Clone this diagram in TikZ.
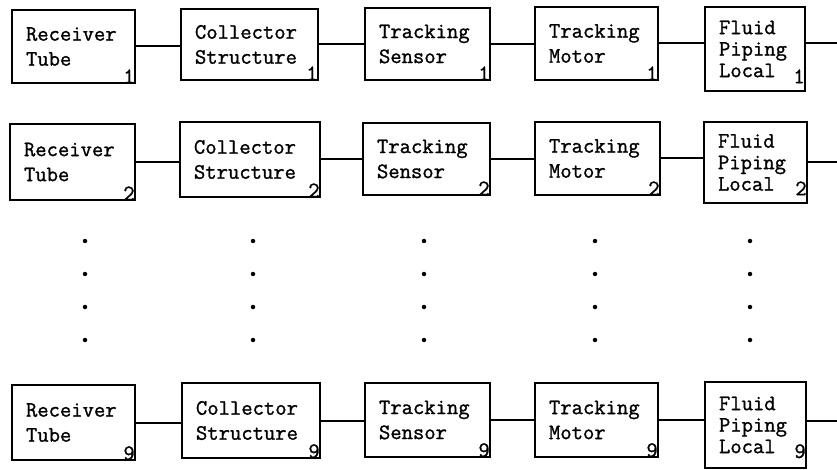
\documentclass[tikz,border=0pt]{standalone}
\usepackage{fontspec}
\newfontfamily\typew[FakeBold=1.2]{Latin Modern Mono}
\begin{document}
\begin{tikzpicture}[x=1pt,y=-1pt,
  blk/.style={draw, line width=1.8pt, align=left, inner xsep=14pt, inner ysep=0pt,
    font=\typew\fontsize{22}{25}\selectfont},
  tallblk/.style={blk, font=\typew\fontsize{22}{21.5}\selectfont},
  num/.style={anchor=south east, inner xsep=1pt, inner ysep=0.5pt,
    font=\typew\fontsize{22}{22}\selectfont},
  link/.style={line width=2pt},
  dotmark/.style={circle, fill, inner sep=0pt, minimum size=4.5pt}]
\useasboundingbox (0,0) rectangle (837,470);
% one block: name, x1, y1, x2, y2, style, text, index, index lift
\newcommand\blk[9]{%
  \pgfmathsetmacro\bw{#4-#2}%
  \pgfmathsetmacro\bh{#5-#3}%
  \pgfmathsetmacro\tw{#4-#2-28}%
  \node[#6, minimum width=\bw pt, minimum height=\bh pt, text width=\tw pt]
    (#1) at ({(#2+#4)/2},{(#3+#5)/2}) {#7};
  \node[num, yshift=#9pt] (#1n) at (#1.south east) {#8};
}
% ---- row 1 ----
\blk{rt1}{12}{10}{135}{83}{blk}{Receiver\\Tube}{1}{0}
\blk{cs1}{181}{9}{318}{80}{blk}{Collector\\Structure}{1}{0}
\blk{ts1}{365}{8}{490}{80}{blk}{Tracking\\Sensor}{1}{0}
\blk{tm1}{535}{7}{658}{80}{blk}{Tracking\\Motor}{1}{0}
\blk{fp1}{705}{7}{805}{91}{tallblk}{Fluid\\Piping\\Local}{1}{8}
% ---- row 2 ----
\blk{rt2}{10}{124}{135}{200}{blk}{Receiver\\Tube}{2}{0}
\blk{cs2}{180}{122}{320}{197}{blk}{Collector\\Structure}{2}{0}
\blk{ts2}{363}{123}{490}{195}{blk}{Tracking\\Sensor}{2}{0}
\blk{tm2}{535}{122}{660}{195}{blk}{Tracking\\Motor}{2}{0}
\blk{fp2}{704}{122}{807}{203}{tallblk}{Fluid\\Piping\\Local}{2}{8}
% ---- row 9 ----
\blk{rt9}{12}{385}{135}{460}{blk}{Receiver\\Tube}{9}{0}
\blk{cs9}{182}{383}{320}{458}{blk}{Collector\\Structure}{9}{0}
\blk{ts9}{365}{383}{490}{457}{blk}{Tracking\\Sensor}{9}{0}
\blk{tm9}{535}{383}{658}{457}{blk}{Tracking\\Motor}{9}{0}
\blk{fp9}{705}{382}{806}{468}{tallblk}{Fluid\\Piping\\Local}{9}{10}
% free ends of the outgoing lines
\coordinate (e1) at (837,43);
\coordinate (e2) at (837,162);
\coordinate (e9) at (837,421);
% connectors
\foreach \r in {1,2,9}{
  \draw[link] (rt\r.east) -- (rt\r.east -| cs\r.west);
  \draw[link] (cs\r.east) -- (cs\r.east -| ts\r.west);
  \draw[link] (ts\r.east) -- (ts\r.east -| tm\r.west);
  \draw[link] (tm\r.east) -- (tm\r.east -| fp\r.west);
  \draw[link] (fp\r.east |- e\r) -- (e\r);
}
% elided rows
\foreach \x in {85,253,424,595,750}
  \foreach \y in {241,274,307,340}
    \node[dotmark] at (\x,\y) {};
\end{tikzpicture}
\end{document}
